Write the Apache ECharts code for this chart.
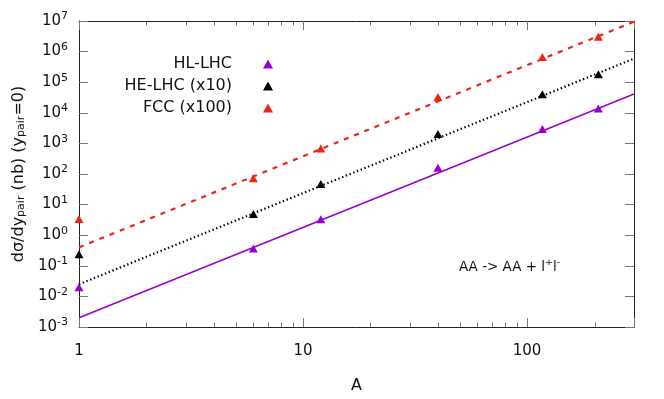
<!DOCTYPE html>
<html lang="en">
<head>
    <meta charset="utf-8">
    <title>AA -> AA + l+l-</title>
    <script src="https://cdn.jsdelivr.net/npm/echarts@6/dist/echarts.min.js"></script>
    <style>
        html, body { margin: 0; padding: 0; background: #fff; }
    </style>
</head>
<body>
<div id="main" style="width: 664px;height:399px"></div>
<script>
    // data
    var massNumbers = [1, 6, 12, 40, 117, 208];
    var hlLhc = [0.02, 0.37, 3.3, 160, 2950, 13900];
    var heLhc = [0.24, 4.9, 47, 2040, 40400, 182000];
    var fcc = [3.4, 72, 680, 32700, 670000, 3050000];

    // fitted power laws, end points at A=1 and A=300
    var fitA = [1, 300];
    var hlFit = [0.002, 41000];
    var heFit = [0.025, 590000];
    var fccFit = [0.40, 9500000];

    var xMinorTicks = [2, 3, 4, 5, 6, 7, 8, 9, 20, 30, 40, 50, 60, 70, 80, 90, 200];

    var FONT = 'DejaVu Sans';
    var PURPLE = '#9400d3', BLACK = '#000000', RED = '#ec2418';

    function pairs(xs, ys) {
        return xs.map(function (x, i) { return [x, ys[i]]; });
    }

    var chart = echarts.init(document.getElementById('main'));

    function isDecade(v) {
        var e = Math.log10(v);
        return Math.abs(e - Math.round(e)) < 1e-6;
    }

    var xCommon = {
        type: 'log',
        logBase: 10,
        min: 1,
        max: 300,
        axisLine: { show: true, lineStyle: { color: '#222', width: 1 } },
        axisTick: { show: true, inside: true, length: 9, lineStyle: { color: '#777' } },
        splitLine: { show: false },
        minorTick: { show: false }
    };
    var yCommon = {
        type: 'log',
        logBase: 10,
        min: 0.001,
        max: 10000000,
        interval: 1,
        splitNumber: 10,
        axisLine: { show: true, lineStyle: { color: '#222', width: 1 } },
        axisTick: { show: true, inside: true, length: 9, lineStyle: { color: '#777' } },
        splitLine: { show: false }
    };

    function legendFor(name, color, top) {
        return {
            data: [{ name: name, icon: 'triangle', itemStyle: { color: color } }],
            right: 386,
            top: top,
            align: 'right',
            orient: 'vertical',
            itemWidth: 10,
            itemHeight: 9,
            selectedMode: false,
            textStyle: { fontFamily: FONT, fontSize: 16, color: '#111', padding: [0, 26, 0, 0] }
        };
    }

    var option = {
        animation: false,
        backgroundColor: '#fff',
        grid: { left: 79, right: 30, top: 21, bottom: 72, containLabel: false },
        legend: [
            legendFor('HL-LHC', PURPLE, 51),
            legendFor('HE-LHC (x10)', BLACK, 73),
            legendFor('FCC (x100)', RED, 95)
        ],
        xAxis: [
            Object.assign({}, xCommon, {
                position: 'bottom',
                name: 'A',
                nameLocation: 'middle',
                nameGap: 51,
                nameTextStyle: { fontFamily: FONT, fontSize: 16, color: '#111' },
                axisLabel: {
                    margin: 17,
                    fontFamily: FONT,
                    fontSize: 15,
                    color: '#111',
                    formatter: function (v) { return isDecade(v) ? String(Math.round(v)) : ''; }
                }
            }),
            Object.assign({}, xCommon, {
                position: 'top',
                axisLabel: { show: false }
            })
        ],
        yAxis: [
            Object.assign({}, yCommon, {
                position: 'left',
                name: 'dσ/dy{sub|pair} (nb) (y{sub|pair}=0)',
                nameLocation: 'middle',
                nameRotate: 90,
                nameGap: 51,
                nameTextStyle: {
                    fontFamily: FONT, fontSize: 16, color: '#111',
                    rich: { sub: { fontFamily: FONT, fontSize: 11, color: '#111', verticalAlign: 'bottom', padding: [6, 0, 0, 0] } }
                },
                axisLabel: {
                    margin: 11,
                    fontFamily: FONT,
                    fontSize: 15,
                    color: '#111',
                    lineHeight: 20,
                    formatter: function (v) {
                        return '10{sup|' + Math.round(Math.log10(v)) + '}';
                    },
                    rich: { sup: { fontFamily: FONT, fontSize: 11, color: '#111', verticalAlign: 'top', lineHeight: 12 } }
                }
            }),
            Object.assign({}, yCommon, {
                position: 'right',
                axisLabel: { show: false }
            })
        ],
        series: [
            {
                name: 'HL-LHC fit', type: 'line', showSymbol: false, silent: true,
                data: pairs(fitA, hlFit),
                lineStyle: { color: PURPLE, width: 1.5 }, z: 2
            },
            {
                name: 'HE-LHC fit', type: 'line', showSymbol: false, silent: true,
                data: pairs(fitA, heFit),
                lineStyle: { color: BLACK, width: 2.2, type: [1.4, 2.6] }, z: 2
            },
            {
                name: 'FCC fit', type: 'line', showSymbol: false, silent: true,
                data: pairs(fitA, fccFit),
                lineStyle: { color: RED, width: 2.2, type: [5, 6] }, z: 2
            },
            {
                name: 'HL-LHC', type: 'scatter', symbol: 'triangle', symbolSize: [9, 8],
                data: pairs(massNumbers, hlLhc), itemStyle: { color: PURPLE, opacity: 1 }, z: 3
            },
            {
                name: 'HE-LHC (x10)', type: 'scatter', symbol: 'triangle', symbolSize: [9, 8],
                data: pairs(massNumbers, heLhc), itemStyle: { color: BLACK, opacity: 1 }, z: 3
            },
            {
                name: 'FCC (x100)', type: 'scatter', symbol: 'triangle', symbolSize: [9, 8],
                data: pairs(massNumbers, fcc), itemStyle: { color: RED, opacity: 1 }, z: 3
            }
        ]
    };
    chart.setOption(option);

    // minor ticks on the log x axis (bottom and top), placed through the axis scale
    function addMinorTicks() {
        var yBottom = chart.convertToPixel({ yAxisIndex: 0 }, 0.001);
        var yTop = chart.convertToPixel({ yAxisIndex: 0 }, 10000000);
        var elements = [];
        xMinorTicks.forEach(function (v) {
            var x = Math.round(chart.convertToPixel({ xAxisIndex: 0 }, v)) + 0.5;
            elements.push({ type: 'line', silent: true, shape: { x1: x, y1: yBottom, x2: x, y2: yBottom - 4.5 }, style: { stroke: '#777', lineWidth: 1 } });
            elements.push({ type: 'line', silent: true, shape: { x1: x, y1: yTop, x2: x, y2: yTop + 4.5 }, style: { stroke: '#777', lineWidth: 1 } });
        });
        elements.push({
            type: 'text',
            left: 459,
            top: 258,
            style: {
                text: 'AA -> AA + l{sup|+}l{sup|-}',
                fontFamily: FONT,
                fontSize: 13.5,
                fill: '#111',
                lineHeight: 18,
                rich: { sup: { fontFamily: FONT, fontSize: 9.5, fill: '#111', verticalAlign: 'top', lineHeight: 10 } }
            }
        });
        chart.setOption({ graphic: elements });
    }
    addMinorTicks();
</script>
</body>
</html>
